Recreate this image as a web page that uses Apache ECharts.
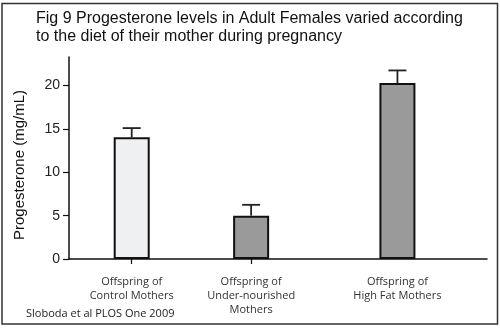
<!DOCTYPE html>
<html>
<head>
<meta charset="utf-8">
<script src="https://cdn.jsdelivr.net/npm/echarts@6/dist/echarts.min.js"></script>
<style>
  html, body { margin: 0; padding: 0; background: #ffffff; }
  #chart { width: 500px; height: 329px; }
</style>
</head>
<body>
<div id="chart"></div>
<script>
// Group labels, their slot on the x scale, mean progesterone and top of the error bar
const groups = [
  'Offspring of\nControl Mothers',
  'Offspring of\nUnder-nourished\nMothers',
  'Offspring of\nHigh Fat Mothers'
];
const slots = [2.1, 6.1, 11];
const means = [14.05, 5.0, 20.3];
const errorTops = [15.1, 6.25, 21.75];
const yTicks = [0, 5, 10, 15, 20];
const tickedSlots = [2.1, 6.1];

const fills = ['#eef0f1', '#9a9a9a', '#9a9a9a'];

const chart = echarts.init(document.getElementById('chart'), null, { renderer: 'canvas' });

const barData = slots.map((s, i) => [s, means[i]]);
const errData = slots.map((s, i) => [s, means[i], errorTops[i]]);

chart.setOption({
  animation: false,
  backgroundColor: '#ffffff',
  grid: { left: 69, right: 13, top: 57, bottom: 70, containLabel: false },
  xAxis: {
    type: 'value',
    min: 0,
    max: 14,
    splitLine: { show: false },
    axisLine: { show: true, lineStyle: { color: '#111', width: 1.5 } },
    axisTick: { show: true, length: 5, customValues: tickedSlots, lineStyle: { color: '#111', width: 1.2 } },
    axisLabel: {
      customValues: slots,
      margin: 16,
      fontFamily: 'Open Sans',
      fontSize: 11,
      lineHeight: 14,
      color: '#333',
      formatter: function (v) {
        const i = slots.findIndex(s => Math.abs(s - v) < 1e-6);
        return i >= 0 ? groups[i] : '';
      }
    }
  },
  yAxis: {
    type: 'value',
    min: 0,
    max: 23.3,
    interval: 5,
    splitLine: { show: false },
    axisLine: { show: true, lineStyle: { color: '#111', width: 1.5 } },
    axisTick: { show: true, length: 6, customValues: yTicks, lineStyle: { color: '#111', width: 1.2 } },
    axisLabel: {
      customValues: yTicks,
      margin: 9,
      fontFamily: 'Liberation Sans',
      fontSize: 14,
      color: '#222'
    }
  },
  series: [
    {
      type: 'bar',
      data: barData,
      barWidth: 36,
      itemStyle: {
        color: p => fills[p.dataIndex],
        borderColor: '#111',
        borderWidth: 2
      },
      z: 2
    },
    {
      type: 'custom',
      data: errData,
      z: 3,
      renderItem: function (params, api) {
        const base = api.coord([api.value(0), api.value(1)]);
        const top = api.coord([api.value(0), api.value(2)]);
        const half = 9;
        const style = { stroke: '#222', lineWidth: 1.8 };
        return {
          type: 'group',
          children: [
            { type: 'line', shape: { x1: base[0], y1: base[1], x2: top[0], y2: top[1] }, style: style },
            { type: 'line', shape: { x1: top[0] - half, y1: top[1], x2: top[0] + half, y2: top[1] }, style: style }
          ]
        };
      }
    }
  ],
  graphic: [
    {
      type: 'rect',
      shape: { x: 2, y: 3.5, width: 495.5, height: 320.5 },
      style: { fill: 'none', stroke: '#333', lineWidth: 1.5 },
      silent: true
    },
    {
      type: 'text',
      left: 36,
      top: 10,
      style: {
        text: 'Fig 9 Progesterone levels in Adult Females varied according\nto the diet of their mother during pregnancy',
        fontFamily: 'Liberation Sans',
        fontSize: 16,
        lineHeight: 18,
        fill: '#111'
      }
    },
    {
      type: 'text',
      x: 20,
      y: 165,
      rotation: Math.PI / 2,
      style: {
        text: 'Progesterone (mg/mL)',
        fontFamily: 'Liberation Sans',
        fontSize: 15,
        fill: '#111',
        align: 'center',
        verticalAlign: 'middle'
      }
    },
    {
      type: 'text',
      left: 26,
      top: 308,
      style: {
        text: 'Sloboda et al PLOS One 2009',
        fontFamily: 'Open Sans',
        fontSize: 11,
        fill: '#222'
      }
    }
  ]
});
</script>
</body>
</html>
